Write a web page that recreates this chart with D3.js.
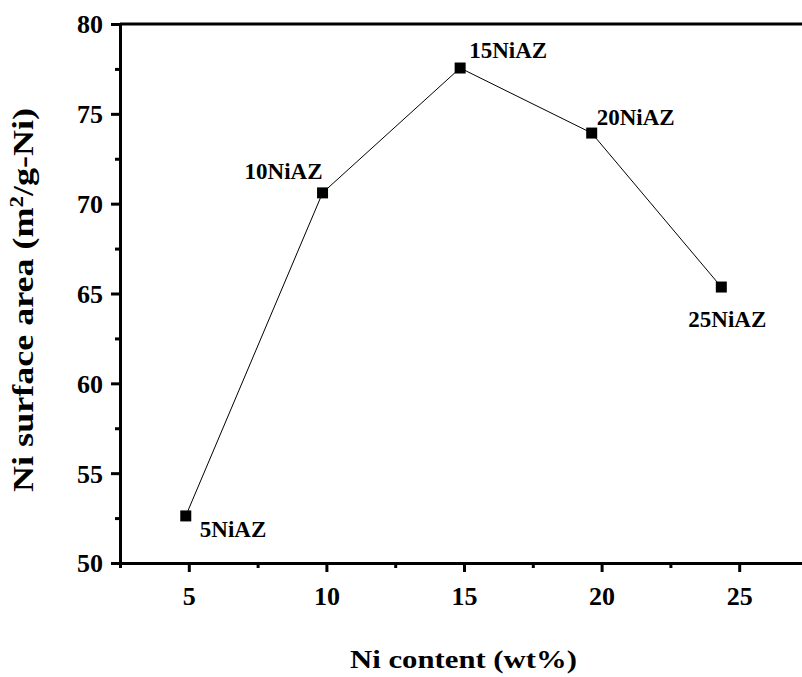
<!DOCTYPE html>
<html><head><meta charset="utf-8">
<script src="https://cdn.jsdelivr.net/npm/d3@7"></script>
<style>body{margin:0;background:#fff}svg{display:block}text{font-family:"Liberation Serif","Times New Roman",serif;font-weight:bold;fill:#000}</style>
</head><body><svg id="c" width="802" height="677"></svg>
<script>
const samples = ["5NiAZ","10NiAZ","15NiAZ","20NiAZ","25NiAZ"];
const niContent = [4.89, 9.86, 14.86, 19.64, 24.35];
const surfaceArea = [52.62, 70.6, 77.55, 73.93, 65.36];
const xTicks = [5,10,15,20,25];
const yTicks = [50,55,60,65,70,75,80];

const svg = d3.select("#c");
const L=120, R=808, T=24, B=563;
const x = d3.scaleLinear().domain([2.5,27.5]).range([L,R]);
const y = d3.scaleLinear().domain([50,80]).range([B,T]);

// frame top/right
svg.append("line").attr("x1",L).attr("x2",R).attr("y1",T).attr("y2",T).style("stroke","#000").style("stroke-width","3px");
svg.append("line").attr("x1",R).attr("x2",R).attr("y1",T).attr("y2",B).style("stroke","#000").style("stroke-width","3px");

const xa = svg.append("g").attr("transform",`translate(0,${B})`)
  .call(d3.axisBottom(x).tickValues(xTicks).tickSize(9).tickSizeOuter(0));
const xm = svg.append("g").attr("transform",`translate(0,${B})`)
  .call(d3.axisBottom(x).tickValues(d3.range(2.5,28,5)).tickSize(5).tickFormat("").tickSizeOuter(0));
const ya = svg.append("g").attr("transform",`translate(${L},0)`)
  .call(d3.axisLeft(y).tickValues(yTicks).tickSize(9).tickSizeOuter(0));
const ym = svg.append("g").attr("transform",`translate(${L},0)`)
  .call(d3.axisLeft(y).tickValues(d3.range(52.5,80,5)).tickSize(5).tickFormat("").tickSizeOuter(0));
[xa,xm,ya,ym].forEach(a=>{
  a.select(".domain").style("stroke","#000").style("stroke-width","3px");
  a.selectAll(".tick line").style("stroke","#000").style("stroke-width","3px");
  a.selectAll(".tick text").style("fill","#000").style("font-size","26px")
   .style("font-family","'Liberation Serif',serif").style("font-weight","bold");
});
xa.selectAll(".tick text").attr("y",42).attr("dy","0");
ya.selectAll(".tick text").attr("x",-17).attr("dy","0.34em");

const pts = samples.map((s,i)=>({s, x:niContent[i], y:surfaceArea[i]}));
svg.append("path").datum(pts)
  .attr("d", d3.line().x(d=>x(d.x)).y(d=>y(d.y)))
  .attr("fill","none").attr("stroke","#000").attr("stroke-width",1);
svg.selectAll("rect.m").data(pts).enter().append("rect")
  .attr("x",d=>x(d.x)-5.5).attr("y",d=>y(d.y)-5.5).attr("width",11).attr("height",11).attr("fill","#000");

const labOff = [[14,21,"start"],[0,-14,"end"],[9,-10,"start"],[5,-8,"start"],[6,40,"middle"]];
svg.selectAll("text.lab").data(pts).enter().append("text")
  .attr("x",(d,i)=>x(d.x)+labOff[i][0]).attr("y",(d,i)=>y(d.y)+labOff[i][1])
  .attr("text-anchor",(d,i)=>labOff[i][2]).style("font-size","23px").text(d=>d.s);

function fitText(sel, target){
  const w = sel.node().getComputedTextLength();
  return target / w;
}
const xt = svg.append("text").attr("text-anchor","middle").style("font-size","26px").text("Ni content (wt%)");
const sx = fitText(xt, 227);
xt.attr("transform",`translate(463.5,668) scale(${sx},1)`);

const yt = svg.append("text").attr("text-anchor","middle").style("font-size","30px");
yt.append("tspan").text("Ni surface area (m");
yt.append("tspan").attr("dy","-10").style("font-size","19px").text("2");
yt.append("tspan").attr("dy","10").text("/g-Ni)");
const sy = fitText(yt, 384);
yt.attr("transform",`translate(33,300) rotate(-90) scale(${sy},1)`);
</script></body></html>
